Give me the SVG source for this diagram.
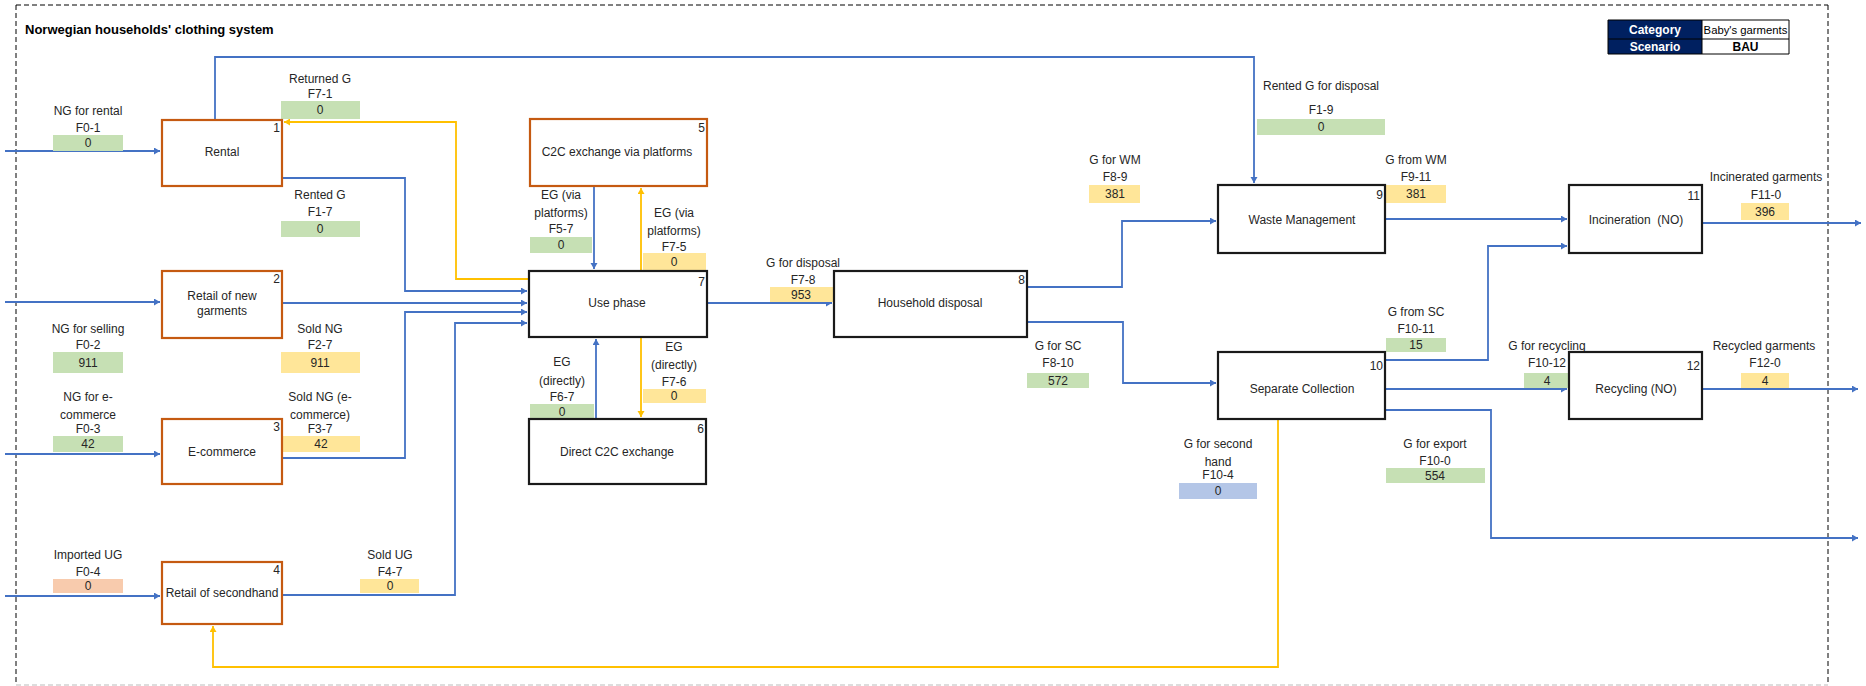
<svg xmlns="http://www.w3.org/2000/svg" width="1866" height="686" viewBox="0 0 1866 686">
<style>
text{font-family:"Liberation Sans",Arial,sans-serif;font-size:12px;fill:#262626;dominant-baseline:central}
.c{text-anchor:middle}
.n{text-anchor:end;font-size:12px}
.title{font-size:13px;font-weight:bold;fill:#000}
.box{fill:#fff;stroke-width:2.2}
.org{stroke:#C55A11}
.blk{stroke:#1a1a1a}
.g{fill:#C6E0B4}
.y{fill:#FFE699}
.s{fill:#F8CBAD}
.b{fill:#B4C6E7}
.bl{fill:none;stroke:#4472C4;stroke-width:1.8}
.yl{fill:none;stroke:#FFC000;stroke-width:1.8}
.leg{font-size:12px}
</style>
<defs>
<marker id="ab" markerUnits="userSpaceOnUse" markerWidth="8" markerHeight="8" refX="6" refY="3.5" orient="auto"><path d="M0,0 L6,3.5 L0,7 z" fill="#4472C4"/></marker>
<marker id="ay" markerUnits="userSpaceOnUse" markerWidth="8" markerHeight="8" refX="6" refY="3.5" orient="auto"><path d="M0,0 L6,3.5 L0,7 z" fill="#FFC000"/></marker>
</defs>
<rect width="1866" height="686" fill="#fff"/>
<g id="frame">
<path d="M16,5 H1828 M16,5 V685 M1828,5 V685" fill="none" stroke="#000" stroke-width="1" stroke-dasharray="5,3"/>
<path d="M16,685 H1828" fill="none" stroke="#bbb" stroke-width="1" stroke-dasharray="5,3"/>
<text x="25" y="29" class="title">Norwegian households' clothing system</text>
</g>
<g id="legend">
<rect x="1608" y="20" width="94" height="34" fill="#002060"/>
<rect x="1702" y="20" width="87" height="34" fill="#fff"/>
<path d="M1608,20 H1789 V54 H1608 Z M1608,39 H1789 M1702,20 V54" fill="none" stroke="#000" stroke-width="1"/>
<text x="1655" y="29.5" class="c leg" style="fill:#fff;font-weight:bold">Category</text>
<text x="1655" y="46.5" class="c leg" style="fill:#fff;font-weight:bold">Scenario</text>
<text x="1745.5" y="29.5" class="c" style="fill:#000;font-size:11.3px">Baby's garments</text>
<text x="1745.5" y="46.5" class="c leg" style="fill:#000;font-weight:bold">BAU</text>
</g>
<g id="connectors">
<path class="bl" d="M5,151 H160" marker-end="url(#ab)"/>
<path class="bl" d="M5,302 H160" marker-end="url(#ab)"/>
<path class="bl" d="M5,454 H160" marker-end="url(#ab)"/>
<path class="bl" d="M5,596 H160" marker-end="url(#ab)"/>
<path class="bl" d="M215,120 V57 H1254 V183" marker-end="url(#ab)"/>
<path class="bl" d="M282,178 H405 V291 H527" marker-end="url(#ab)"/>
<path class="bl" d="M282,303 H527" marker-end="url(#ab)"/>
<path class="bl" d="M282,458 H405 V312 H527" marker-end="url(#ab)"/>
<path class="bl" d="M282,595 H455 V323 H527" marker-end="url(#ab)"/>
<path class="bl" d="M594,186 V269" marker-end="url(#ab)"/>
<path class="bl" d="M596,419 V339" marker-end="url(#ab)"/>
<path class="bl" d="M707,303 H832" marker-end="url(#ab)"/>
<path class="bl" d="M1027,287 H1122 V221 H1216" marker-end="url(#ab)"/>
<path class="bl" d="M1027,322 H1123 V383 H1216" marker-end="url(#ab)"/>
<path class="bl" d="M1385,219 H1567" marker-end="url(#ab)"/>
<path class="bl" d="M1385,360 H1488 V246 H1567" marker-end="url(#ab)"/>
<path class="bl" d="M1385,389 H1567" marker-end="url(#ab)"/>
<path class="bl" d="M1385,410 H1491 V538 H1858" marker-end="url(#ab)"/>
<path class="bl" d="M1702,223 H1861" marker-end="url(#ab)"/>
<path class="bl" d="M1702,389 H1858" marker-end="url(#ab)"/>
<path class="yl" d="M529,279 H456 V122 H284" marker-end="url(#ay)"/>
<path class="yl" d="M641,271 V188" marker-end="url(#ay)"/>
<path class="yl" d="M641,337 V417" marker-end="url(#ay)"/>
<path class="yl" d="M1278,419 V667 H213 V626" marker-end="url(#ay)"/>
</g>
<g id="flow-labels">
<g id="f0-1"><text x="88" y="111" class="c">NG for rental</text><text x="88" y="128" class="c">F0-1</text><rect x="53" y="135" width="70" height="16" class="g"/><text x="88" y="143" class="c">0</text></g>
<g id="f7-1"><text x="320" y="79" class="c">Returned G</text><text x="320" y="94" class="c">F7-1</text><rect x="281" y="101" width="79" height="18" class="g"/><text x="320" y="110" class="c">0</text></g>
<g id="f1-7"><text x="320" y="195" class="c">Rented G</text><text x="320" y="212" class="c">F1-7</text><rect x="281" y="221" width="79" height="16" class="g"/><text x="320" y="229" class="c">0</text></g>
<g id="f5-7"><text x="561" y="195" class="c">EG (via</text><text x="561" y="213" class="c">platforms)</text><text x="561" y="229" class="c">F5-7</text><rect x="530" y="237" width="62" height="16" class="g"/><text x="561" y="245" class="c">0</text></g>
<g id="f7-5"><text x="674" y="213" class="c">EG (via</text><text x="674" y="231" class="c">platforms)</text><text x="674" y="247" class="c">F7-5</text><rect x="643" y="253" width="63" height="18" class="y"/><text x="674" y="262" class="c">0</text></g>
<g id="f0-2"><text x="88" y="329" class="c">NG for selling</text><text x="88" y="345" class="c">F0-2</text><rect x="53" y="352" width="70" height="21" class="g"/><text x="88" y="363" class="c">911</text></g>
<g id="f2-7"><text x="320" y="329" class="c">Sold NG</text><text x="320" y="345" class="c">F2-7</text><rect x="281" y="352" width="79" height="21" class="y"/><text x="320" y="363" class="c">911</text></g>
<g id="f0-3"><text x="88" y="397" class="c">NG for e-</text><text x="88" y="415" class="c">commerce</text><text x="88" y="429" class="c">F0-3</text><rect x="53" y="436" width="70" height="16" class="g"/><text x="88" y="444" class="c">42</text></g>
<g id="f3-7"><text x="320" y="397" class="c">Sold NG (e-</text><text x="320" y="415" class="c">commerce)</text><text x="320" y="429" class="c">F3-7</text><rect x="283" y="436" width="77" height="16" class="y"/><text x="321" y="444" class="c">42</text></g>
<g id="f0-4"><text x="88" y="555" class="c">Imported UG</text><text x="88" y="572" class="c">F0-4</text><rect x="53" y="579" width="70" height="14" class="s"/><text x="88" y="586" class="c">0</text></g>
<g id="f4-7"><text x="390" y="555" class="c">Sold UG</text><text x="390" y="572" class="c">F4-7</text><rect x="360" y="579" width="59" height="14" class="y"/><text x="390" y="586" class="c">0</text></g>
<g id="f6-7"><text x="562" y="362" class="c">EG</text><text x="562" y="381" class="c">(directly)</text><text x="562" y="397" class="c">F6-7</text><rect x="530" y="404" width="64" height="15" class="g"/><text x="562" y="411.5" class="c">0</text></g>
<g id="f7-6"><text x="674" y="347" class="c">EG</text><text x="674" y="365" class="c">(directly)</text><text x="674" y="382" class="c">F7-6</text><rect x="643" y="389" width="63" height="14" class="y"/><text x="674" y="396" class="c">0</text></g>
<g id="f7-8"><text x="803" y="263" class="c">G for disposal</text><text x="803" y="280" class="c">F7-8</text><rect x="770" y="287" width="63" height="15" class="y"/><text x="801" y="294.5" class="c">953</text></g>
<g id="f1-9"><text x="1321" y="86" class="c">Rented G for disposal</text><text x="1321" y="110" class="c">F1-9</text><rect x="1257" y="119" width="128" height="16" class="g"/><text x="1321" y="127" class="c">0</text></g>
<g id="f8-9"><text x="1115" y="160" class="c">G for WM</text><text x="1115" y="177" class="c">F8-9</text><rect x="1089" y="185" width="51" height="18" class="y"/><text x="1115" y="194" class="c">381</text></g>
<g id="f8-10"><text x="1058" y="346" class="c">G for SC</text><text x="1058" y="363" class="c">F8-10</text><rect x="1027" y="373" width="62" height="15" class="g"/><text x="1058" y="380.5" class="c">572</text></g>
<g id="f9-11"><text x="1416" y="160" class="c">G from WM</text><text x="1416" y="177" class="c">F9-11</text><rect x="1386" y="185" width="60" height="18" class="y"/><text x="1416" y="194" class="c">381</text></g>
<g id="f10-11"><text x="1416" y="312" class="c">G from SC</text><text x="1416" y="329" class="c">F10-11</text><rect x="1386" y="338" width="60" height="14" class="g"/><text x="1416" y="345" class="c">15</text></g>
<g id="f10-4"><text x="1218" y="444" class="c">G for second</text><text x="1218" y="462" class="c">hand</text><text x="1218" y="475" class="c">F10-4</text><rect x="1179" y="483" width="78" height="16" class="b"/><text x="1218" y="491" class="c">0</text></g>
<g id="f10-12"><text x="1547" y="346" class="c">G for recycling</text><text x="1547" y="363" class="c">F10-12</text><rect x="1524" y="373" width="45" height="15" class="g"/><text x="1547" y="380.5" class="c">4</text></g>
<g id="f11-0"><text x="1766" y="177" class="c">Incinerated garments</text><text x="1766" y="195" class="c">F11-0</text><rect x="1741" y="203" width="48" height="17" class="y"/><text x="1765" y="211.5" class="c">396</text></g>
<g id="f12-0"><text x="1764" y="346" class="c">Recycled garments</text><text x="1765" y="363" class="c">F12-0</text><rect x="1741" y="373" width="48" height="15" class="y"/><text x="1765" y="380.5" class="c">4</text></g>
<g id="f10-0"><text x="1435" y="444" class="c">G for export</text><text x="1435" y="461" class="c">F10-0</text><rect x="1386" y="468" width="99" height="15" class="g"/><text x="1435" y="475.5" class="c">554</text></g>
</g>
<g id="node1"><rect x="162" y="120" width="120" height="66" class="box org"/><text x="222" y="152" class="c">Rental</text><text x="280" y="128" class="n">1</text></g>
<g id="node2"><rect x="162" y="271" width="120" height="67" class="box org"/><text x="222" y="296" class="c">Retail of new</text><text x="222" y="311" class="c">garments</text><text x="280" y="279" class="n">2</text></g>
<g id="node3"><rect x="162" y="419" width="120" height="65" class="box org"/><text x="222" y="452" class="c">E-commerce</text><text x="280" y="427" class="n">3</text></g>
<g id="node4"><rect x="162" y="562" width="120" height="62" class="box org"/><text x="222" y="593" class="c">Retail of secondhand</text><text x="280" y="570" class="n">4</text></g>
<g id="node5"><rect x="530" y="119" width="177" height="67" class="box org"/><text x="617" y="152" class="c">C2C exchange via platforms</text><text x="705" y="128" class="n">5</text></g>
<g id="node6"><rect x="529" y="419" width="177" height="65" class="box blk"/><text x="617" y="452" class="c">Direct C2C exchange</text><text x="704" y="429" class="n">6</text></g>
<g id="node7"><rect x="529" y="271" width="178" height="66" class="box blk"/><text x="617" y="303" class="c">Use phase</text><text x="705" y="282" class="n">7</text></g>
<g id="node8"><rect x="834" y="271" width="193" height="66" class="box blk"/><text x="930" y="303" class="c">Household disposal</text><text x="1025" y="280" class="n">8</text></g>
<g id="node9"><rect x="1218" y="185" width="167" height="68" class="box blk"/><text x="1302" y="220" class="c">Waste Management</text><text x="1383" y="195" class="n">9</text></g>
<g id="node10"><rect x="1218" y="352" width="167" height="67" class="box blk"/><text x="1302" y="389" class="c">Separate Collection</text><text x="1383" y="366" class="n">10</text></g>
<g id="node11"><rect x="1569" y="185" width="133" height="68" class="box blk"/><text x="1636" y="220" class="c" style="white-space:pre">Incineration  (NO)</text><text x="1700" y="196" class="n">11</text></g>
<g id="node12"><rect x="1569" y="352" width="133" height="67" class="box blk"/><text x="1636" y="389" class="c">Recycling (NO)</text><text x="1700" y="366" class="n">12</text></g>
</svg>
